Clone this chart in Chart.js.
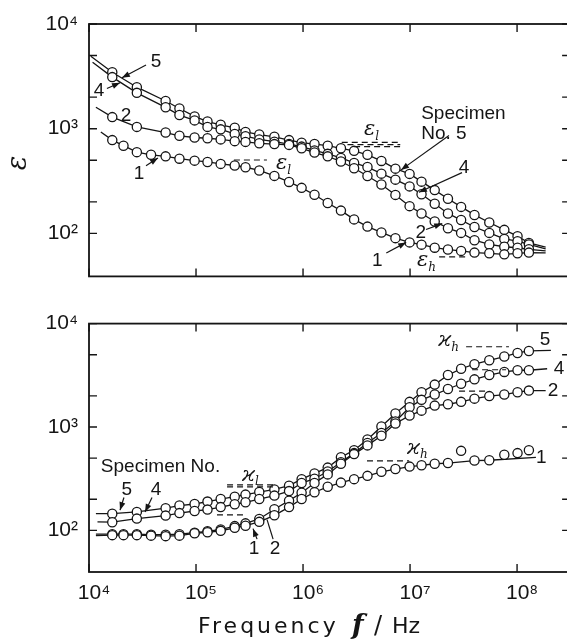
<!DOCTYPE html>
<html lang="en">
<head>
<meta charset="UTF-8">
<title>Permittivity and conductivity vs frequency</title>
<script src="https://cdn.jsdelivr.net/npm/chart.js@4.4.1/dist/chart.umd.min.js"></script>
<style>
  body { margin: 0; background: #fff; overflow: hidden; }
  #wrap { position: relative; width: 567px; height: 644px; overflow: hidden; }
  canvas { position: absolute; left: 0; }
  #epsChart { top: 0; }
  #kapChart { top: 300px; }
</style>
</head>
<body>
<div id="wrap">
  <canvas id="epsChart" width="576" height="300"></canvas>
  <canvas id="kapChart" width="576" height="344"></canvas>
</div>
<script>
// measuring frequencies (Hz), shared by all specimens
const freq = [1.65e4, 2.1e4, 2.8e4, 3.8e4, 5.2e4, 7.0e4, 9.7e4, 1.28e5, 1.7e5, 2.3e5, 2.9e5, 3.9e5,
  5.4e5, 7.4e5, 9.7e5, 1.28e6, 1.7e6, 2.26e6, 3.0e6, 4.0e6, 5.4e6, 7.3e6, 9.9e6, 1.28e7,
  1.7e7, 2.26e7, 3.0e7, 4.0e7, 5.5e7, 7.6e7, 1.01e8, 1.29e8];

// permittivity, specimens 1, 2, 4, 5
const eps1 = [778, 688, 597, 563, 544, 517, 495, 481, 461, 445, 428, 399, 354, 310, 272, 234,
  195, 165, 136, 116, 102, 90, 82, 78, 73, 70, 68, 65.5, 64.5, 63, 64.5, 65.5];
const eps2 = [1290, null, 1040, null, 918, 855, 824, 810, 790, 760, 748, 725, 712, 700, 650, 592,
  544, 486, 419, 353, 293, 233, 182, 155, 130, 112, 101, 86, 78.4, 74.5, 72.9, 70.4];
const eps4 = [3110, null, 2200, null, 1600, 1350, 1200, 1040, 985, 890, 847, 789, 751, 713, 674, 619,
  575, 525, 471, 430, 372, 326, 281, 236, 192, 155, 134, 115, 101, 88.5, 84.2, 78.4];
const eps5 = [3460, null, 2490, null, 1840, 1560, 1310, 1170, 1090, 1020, 930, 879, 837, 778, 735, 713,
  688, 650, 614, 563, 492, 415, 370, 312, 259, 214, 179, 150, 127, 108, 94, 81];
// where the drawn curves begin and end [freq, value]
const epsEnds1 = [[1.29e4, 930], [1.85e8, 65]];
const epsEnds2 = [[1.16e4, 1600], [1.85e8, 68]];
const epsEnds4 = [[1.08e4, 4320], [1.85e8, 71]];
const epsEnds5 = [[1.04e4, 4920], [1.85e8, 74]];

// conductivity (S/cm), specimens 1, 2, 4, 5
const kap1 = [90, 90, 90, 89, 88, 89, 93.7, 96, 99, 106, 111, 121, 140, 168, 201, 234,
  264, 290, 313, 337, 369, 392, 414, 426, 441, 448, 588, 474, 477, 539, 559, 597];
const kap2 = [92, 92, 92, 91, 91, 92, 95, 98, 102, 110, 117, 129, 160, 194, 231, 287,
  348, 441, 547, 664, 824, 1080, 1290, 1440, 1610, 1660, 1750, 1880, 1990, 2060, 2170, 2250];
const kap4 = [120, null, 130, null, 139, 147, 154, 159, 168, 179, 187, 201, 217, 240, 287, 316,
  371, 456, 559, 701, 874, 1130, 1550, 1830, 2060, 2330, 2620, 2890, 3180, 3410, 3540, 3540];
const kap5 = [145, null, 151, null, 164, 174, 180, 190, 201, 212, 222, 235, 249, 271, 313, 356,
  405, 510, 597, 756, 1010, 1350, 1750, 2170, 2570, 3180, 3660, 4050, 4420, 4800, 5200, 5440];
const kapEnds1 = [[1.16e4, 89], [1.5e8, 508]];
const kapEnds2 = [[1.16e4, 92], [1.85e8, 2250]];
const kapEnds4 = [[1.2e4, 121], [1.91e8, 3660]];
const kapEnds5 = [[1.16e4, 145], [2.07e8, 5510]];
const kap1OffCurve = [26, 29, 30, 31];   // points lying off the drawn curve

const xTicks = [1e4, 1e5, 1e6, 1e7, 1e8];
const yTicks = [100, 200, 500, 1000, 2000, 5000, 10000];

// annotations, in data units
const epsTexts = [['5', 4.23e4, 4320], ['4', 1.24e4, 2310], ['2', 2.22e4, 1320], ['1', 2.93e4, 372],
  ['4', 3.2e7, 423], ['2', 1.26e7, 102], ['1', 4.94e6, 54.7],
  ['Specimen', 1.27e7, 1380, 'left'], ['No. 5', 1.27e7, 898, 'left']];
const epsArrows = [[3.41e4, 4050, 2.03e4, 3060], [1.47e4, 2420, 1.95e4, 2750], [3.41e4, 442, 4.41e4, 525],
  [2.31e7, 860, 8.24e6, 404], [3.06e7, 380, 1.21e7, 247], [1.41e7, 109, 2.0e7, 124], [6.0e6, 65, 9.2e6, 82]];
const epsDashes = [[2.26e5, 4.6e5, 502], [2.3e6, 7.9e6, 740], [2.6e6, 8.1e6, 705], [3.0e6, 8.3e6, 675],
  [1.87e7, 3.41e7, 59.7]];
const epsSubs = [['ε', 'l', 5.6e5, 461], ['ε', 'l', 3.72e6, 979], ['ε', 'h', 1.16e7, 54.7]];

const kapTexts = [['Specimen No.', 1.29e4, 414, 'left'], ['5', 2.26e4, 247], ['4', 4.23e4, 247],
  ['1', 3.48e5, 66.4], ['2', 5.47e5, 66.4], ['5', 1.83e8, 6930], ['4', 2.47e8, 3640],
  ['2', 2.17e8, 2220], ['1', 1.68e8, 502]];
const kapArrows = [[2.12e4, 208, 1.95e4, 157], [3.88e4, 208, 3.34e4, 151], [3.72e5, 82.4, 3.41e5, 104],
  [5.25e5, 82.4, 4.61e5, 127, 0]];
const kapDashes = [[1.95e5, 5.7e5, 275], [1.95e5, 5.7e5, 264], [1.57e5, 2.93e5, 141], [3.96e6, 9.8e6, 471],
  [3.34e7, 8.4e7, 5970], [3.8e7, 7.9e7, 3580], [2.87e7, 5.25e7, 2220]];
const kapSubs = [['ϰ', 'l', 2.69e5, 341], ['ϰ', 'h', 9.37e6, 622], ['ϰ', 'h', 1.83e7, 6790]];

const INK = '#151515';
const SUP = { '0': '⁰', '1': '¹', '2': '²', '3': '³', '4': '⁴', '5': '⁵', '6': '⁶', '7': '⁷', '8': '⁸', '9': '⁹' };

function powLabel(v) {
  const l = Math.log10(v), e = Math.round(l);
  if (Math.abs(l - e) > 1e-6) return '';
  return '10' + String(e).split('').map(c => SUP[c]).join('');
}

// one series -> curve dataset + open-circle dataset
function makeSeries(vals, ends, skip) {
  skip = skip || [];
  const pts = [];
  const line = [{ x: ends[0][0], y: ends[0][1] }];
  vals.forEach((v, i) => {
    if (v === null) return;
    pts.push({ x: freq[i], y: v });
    if (!skip.includes(i)) line.push({ x: freq[i], y: v });
  });
  line.push({ x: ends[1][0], y: ends[1][1] });
  return [
    { data: line, borderColor: INK, borderWidth: 1.3, pointRadius: 0, tension: 0, order: 2 },
    { data: pts, showLine: false, borderColor: INK, backgroundColor: '#fff',
      pointRadius: 4.6, pointBorderWidth: 1.3, order: 1 }
  ];
}

function arrow(ctx, x1, y1, x2, y2, head) {
  ctx.beginPath(); ctx.moveTo(x1, y1); ctx.lineTo(x2, y2); ctx.stroke();
  if (head === 0) return;
  const a = Math.atan2(y2 - y1, x2 - x1), L = 8, W = 3;
  ctx.beginPath();
  ctx.moveTo(x2, y2);
  ctx.lineTo(x2 - L * Math.cos(a) + W * Math.sin(a), y2 - L * Math.sin(a) - W * Math.cos(a));
  ctx.lineTo(x2 - L * Math.cos(a) - W * Math.sin(a), y2 - L * Math.sin(a) + W * Math.cos(a));
  ctx.closePath(); ctx.fill();
}

// frame, inward ticks, dashed levels, labels, arrows
const decor = {
  id: 'decor',
  afterDatasetsDraw(chart, args, o) {
    const { ctx, chartArea: a, scales: { x, y } } = chart;
    const px = f => x.getPixelForValue(f), py = v => y.getPixelForValue(v);
    ctx.save();
    ctx.strokeStyle = INK; ctx.fillStyle = INK;
    ctx.lineWidth = 1.8;
    ctx.strokeRect(a.left, a.top, a.right - a.left, a.bottom - a.top);
    ctx.lineWidth = 1.4;
    ctx.beginPath();
    x.ticks.forEach(t => {
      const p = px(t.value);
      ctx.moveTo(p, a.bottom); ctx.lineTo(p, a.bottom - 8);
      ctx.moveTo(p, a.top); ctx.lineTo(p, a.top + 8);
    });
    y.ticks.forEach(t => {
      const p = py(t.value);
      ctx.moveTo(a.left, p); ctx.lineTo(a.left + 8, p);
      ctx.moveTo(a.right, p); ctx.lineTo(a.right - 8, p);
    });
    ctx.stroke();

    ctx.setLineDash([6, 4]); ctx.lineWidth = 1.2;
    o.dashes.forEach(([f1, f2, v]) => {
      ctx.beginPath(); ctx.moveTo(px(f1), py(v)); ctx.lineTo(px(f2), py(v)); ctx.stroke();
    });
    ctx.setLineDash([]);
    ctx.lineWidth = 1.2;
    o.arrows.forEach(([f1, v1, f2, v2, h]) => arrow(ctx, px(f1), py(v1), px(f2), py(v2), h));

    ctx.font = '19px "Liberation Sans", "DejaVu Sans", sans-serif';
    ctx.textBaseline = 'middle';
    o.texts.forEach(([s, f, v, al]) => {
      ctx.textAlign = al || 'center';
      ctx.fillText(s, px(f), py(v));
    });
    ctx.textAlign = 'left';
    o.subs.forEach(([s, sub, f, v]) => {
      const X = px(f), Y = py(v);
      ctx.font = 'italic 21px "DejaVu Serif", serif';
      ctx.fillText(s, X, Y);
      const w = ctx.measureText(s).width;
      ctx.font = 'italic 12px "DejaVu Serif", serif';
      ctx.fillText(sub, X + w, Y + 7);
    });
    o.titles(ctx, a);
    ctx.restore();
  }
};

function epsTitles(ctx) {
  ctx.save();
  ctx.translate(19, 163);
  ctx.rotate(-Math.PI / 2);
  ctx.font = 'italic 27px "DejaVu Serif", serif';
  ctx.textAlign = 'center'; ctx.textBaseline = 'middle';
  ctx.fillText('ε', 0, 0);
  ctx.restore();
}

function kapTitles(ctx) {
  // rotated y title
  ctx.save();
  ctx.translate(37, 500);
  ctx.rotate(-Math.PI / 2);
  ctx.textAlign = 'left'; ctx.textBaseline = 'alphabetic';
  let cx = 0;
  ctx.font = 'italic 28px "DejaVu Serif", serif';
  ctx.fillText('ϰ', cx, 0); cx += ctx.measureText('ϰ').width + 2;
  ctx.font = '22px "DejaVu Sans", sans-serif';
  ctx.fillText(' / S cm', cx, 0); cx += ctx.measureText(' / S cm').width;
  ctx.font = '14px "DejaVu Sans", sans-serif';
  ctx.fillText('-1', cx, -10);
  ctx.restore();
  // x title
  ctx.save();
  ctx.textAlign = 'left'; ctx.textBaseline = 'alphabetic';
  ctx.font = '22px "DejaVu Sans", sans-serif';
  ctx.letterSpacing = '3px';
  ctx.fillText('Frequency', 198, 333);
  ctx.letterSpacing = '0px';
  ctx.font = 'bold italic 27px "DejaVu Serif", serif';
  ctx.fillText('f', 352, 334);
  ctx.font = '24px "DejaVu Sans", sans-serif';
  ctx.fillText('/', 374, 333);
  ctx.font = '22px "DejaVu Sans", sans-serif';
  ctx.fillText('Hz', 392, 333);
  ctx.restore();
}

const tickFont = { family: '"Liberation Sans", "DejaVu Sans", sans-serif', size: 21 };

function xScale(showLabels, height) {
  return {
    type: 'logarithmic', min: 1e4, max: 3.13e8,
    afterBuildTicks: s => { s.ticks = xTicks.map(v => ({ value: v })); },
    afterFit: s => { s.height = height; },
    grid: { display: false, drawTicks: false },
    border: { display: false },
    ticks: { display: showLabels, callback: v => powLabel(v), autoSkip: false, maxRotation: 0,
      padding: 9, labelOffset: 5, color: INK, font: tickFont }
  };
}

function yScale(min) {
  return {
    type: 'logarithmic', min: min, max: 1e4,
    afterBuildTicks: s => { s.ticks = yTicks.map(v => ({ value: v })); },
    afterFit: s => { s.width = 89; },
    grid: { display: false, drawTicks: false },
    border: { display: false },
    ticks: { callback: v => powLabel(v), autoSkip: false, padding: 11, color: INK, font: tickFont }
  };
}

function makeChart(id, datasets, pad, xs, ys, deco) {
  return new Chart(document.getElementById(id), {
    type: 'line',
    data: { datasets: datasets },
    options: {
      responsive: false, animation: false, events: [],
      layout: { padding: pad },
      plugins: { legend: { display: false }, tooltip: { enabled: false }, decor: deco },
      scales: { x: xs, y: ys }
    },
    plugins: [decor]
  });
}

makeChart('epsChart',
  [].concat(makeSeries(eps1, epsEnds1), makeSeries(eps2, epsEnds2),
    makeSeries(eps4, epsEnds4), makeSeries(eps5, epsEnds5)),
  { top: 24, right: 5, bottom: 0, left: 0 },
  xScale(false, 18), yScale(38.8),
  { texts: epsTexts, arrows: epsArrows, dashes: epsDashes, subs: epsSubs, titles: epsTitles });

makeChart('kapChart',
  [].concat(makeSeries(kap1, kapEnds1, kap1OffCurve), makeSeries(kap2, kapEnds2),
    makeSeries(kap4, kapEnds4), makeSeries(kap5, kapEnds5)),
  { top: 15, right: 5, bottom: 0, left: 0 },
  xScale(true, 72), yScale(39.6),
  { texts: kapTexts, arrows: kapArrows, dashes: kapDashes, subs: kapSubs, titles: kapTitles });
</script>
</body>
</html>
